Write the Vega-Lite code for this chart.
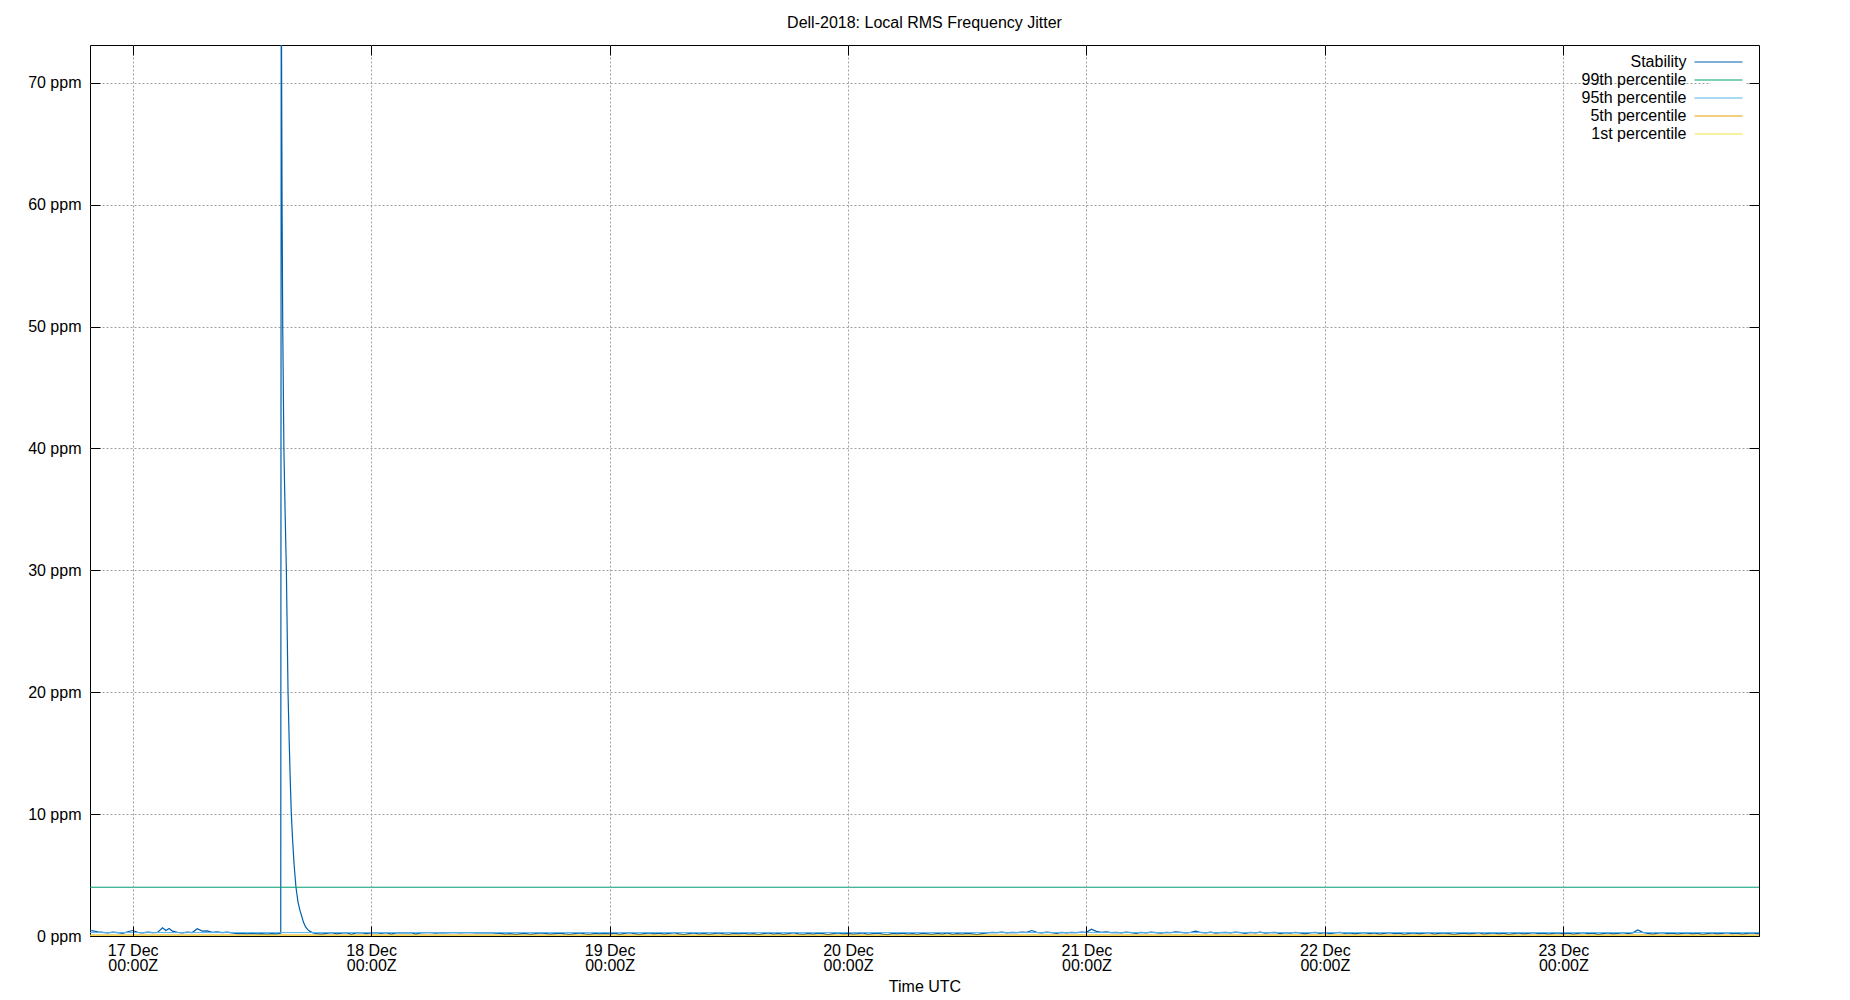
{
  "$schema": "https://vega.github.io/schema/vega-lite/v6.json",
  "width": 1669,
  "height": 891,
  "autosize": {"type": "none"},
  "padding": {"left": 90, "top": 45, "right": 91, "bottom": 64},
  "background": "white",
  "title": {"text": "Dell-2018: Local RMS Frequency Jitter", "fontSize": 16, "fontWeight": "normal", "font": "Liberation Sans", "color": "black", "anchor": "middle", "baseline": "alphabetic", "offset": 1},
  "datasets": {
    "stability": [
      {"t":"2019-12-16T19:42:00Z","v":0.45},{"t":"2019-12-16T20:00:00Z","v":0.42},{"t":"2019-12-16T20:30:00Z","v":0.35},{"t":"2019-12-16T21:00:00Z","v":0.3},{"t":"2019-12-16T21:30:00Z","v":0.25},{"t":"2019-12-16T22:00:00Z","v":0.32},{"t":"2019-12-16T22:30:00Z","v":0.28},{"t":"2019-12-16T23:00:00Z","v":0.22},{"t":"2019-12-16T23:30:00Z","v":0.35},
      {"t":"2019-12-17T00:00:00Z","v":0.45},{"t":"2019-12-17T00:30:00Z","v":0.3},{"t":"2019-12-17T01:00:00Z","v":0.26},{"t":"2019-12-17T01:30:00Z","v":0.32},{"t":"2019-12-17T02:00:00Z","v":0.27},{"t":"2019-12-17T02:30:00Z","v":0.3},{"t":"2019-12-17T03:00:00Z","v":0.68},{"t":"2019-12-17T03:20:00Z","v":0.45},{"t":"2019-12-17T03:40:00Z","v":0.62},{"t":"2019-12-17T04:00:00Z","v":0.4},{"t":"2019-12-17T04:30:00Z","v":0.3},{"t":"2019-12-17T05:00:00Z","v":0.26},{"t":"2019-12-17T05:30:00Z","v":0.32},{"t":"2019-12-17T06:00:00Z","v":0.28},{"t":"2019-12-17T06:30:00Z","v":0.6},{"t":"2019-12-17T07:00:00Z","v":0.4},{"t":"2019-12-17T07:30:00Z","v":0.42},{"t":"2019-12-17T08:00:00Z","v":0.3},{"t":"2019-12-17T08:30:00Z","v":0.33},{"t":"2019-12-17T09:00:00Z","v":0.27},{"t":"2019-12-17T09:30:00Z","v":0.31},{"t":"2019-12-17T10:00:00Z","v":0.25},{"t":"2019-12-17T10:30:00Z","v":0.2},{"t":"2019-12-17T11:00:00Z","v":0.22},{"t":"2019-12-17T11:30:00Z","v":0.18},{"t":"2019-12-17T12:00:00Z","v":0.21},{"t":"2019-12-17T12:30:00Z","v":0.17},{"t":"2019-12-17T13:00:00Z","v":0.19},{"t":"2019-12-17T13:30:00Z","v":0.16},{"t":"2019-12-17T14:00:00Z","v":0.2},{"t":"2019-12-17T14:30:00Z","v":0.18},{"t":"2019-12-17T14:54:00Z","v":0.22},
      {"t":"2019-12-17T14:57:00Z","v":80},{"t":"2019-12-17T15:02:00Z","v":60},{"t":"2019-12-17T15:06:00Z","v":50},{"t":"2019-12-17T15:13:00Z","v":40},{"t":"2019-12-17T15:20:00Z","v":35},{"t":"2019-12-17T15:28:00Z","v":30},{"t":"2019-12-17T15:33:00Z","v":25},{"t":"2019-12-17T15:38:00Z","v":20},{"t":"2019-12-17T15:45:00Z","v":16},{"t":"2019-12-17T15:52:00Z","v":12.5},{"t":"2019-12-17T15:58:00Z","v":10},{"t":"2019-12-17T16:06:00Z","v":7.8},{"t":"2019-12-17T16:15:00Z","v":5.8},{"t":"2019-12-17T16:26:00Z","v":4.0},{"t":"2019-12-17T16:38:00Z","v":2.8},{"t":"2019-12-17T16:50:00Z","v":2.1},{"t":"2019-12-17T17:01:00Z","v":1.6},{"t":"2019-12-17T17:12:00Z","v":1.1},{"t":"2019-12-17T17:24:00Z","v":0.75},{"t":"2019-12-17T17:37:00Z","v":0.52},{"t":"2019-12-17T17:51:00Z","v":0.38},{"t":"2019-12-17T18:05:00Z","v":0.28},
      {"t":"2019-12-17T18:30:00Z","v":0.2},{"t":"2019-12-17T19:00:00Z","v":0.15},{"t":"2019-12-17T19:30:00Z","v":0.22},{"t":"2019-12-17T20:00:00Z","v":0.27},{"t":"2019-12-17T20:30:00Z","v":0.18},{"t":"2019-12-17T21:00:00Z","v":0.24},{"t":"2019-12-17T21:30:00Z","v":0.28},{"t":"2019-12-17T22:00:00Z","v":0.14},{"t":"2019-12-17T22:30:00Z","v":0.25},{"t":"2019-12-17T23:00:00Z","v":0.27},{"t":"2019-12-17T23:30:00Z","v":0.2},
      {"t":"2019-12-18T00:00:00Z","v":0.26},{"t":"2019-12-18T00:30:00Z","v":0.28},{"t":"2019-12-18T01:00:00Z","v":0.22},{"t":"2019-12-18T01:30:00Z","v":0.27},{"t":"2019-12-18T02:00:00Z","v":0.15},{"t":"2019-12-18T02:30:00Z","v":0.26},{"t":"2019-12-18T03:00:00Z","v":0.28},{"t":"2019-12-18T03:30:00Z","v":0.25},{"t":"2019-12-18T04:00:00Z","v":0.27},{"t":"2019-12-18T04:30:00Z","v":0.16},{"t":"2019-12-18T05:00:00Z","v":0.25},{"t":"2019-12-18T05:30:00Z","v":0.28},{"t":"2019-12-18T06:00:00Z","v":0.27},{"t":"2019-12-18T06:30:00Z","v":0.24},{"t":"2019-12-18T07:00:00Z","v":0.28},{"t":"2019-12-18T07:30:00Z","v":0.26},{"t":"2019-12-18T08:00:00Z","v":0.27},{"t":"2019-12-18T08:30:00Z","v":0.28},{"t":"2019-12-18T09:00:00Z","v":0.25},{"t":"2019-12-18T09:30:00Z","v":0.27},{"t":"2019-12-18T10:00:00Z","v":0.28},{"t":"2019-12-18T10:30:00Z","v":0.26},{"t":"2019-12-18T11:00:00Z","v":0.27},{"t":"2019-12-18T11:30:00Z","v":0.25},{"t":"2019-12-18T12:00:00Z","v":0.28},{"t":"2019-12-18T12:30:00Z","v":0.24},{"t":"2019-12-18T13:00:00Z","v":0.22},{"t":"2019-12-18T13:30:00Z","v":0.16},{"t":"2019-12-18T14:00:00Z","v":0.2},{"t":"2019-12-18T14:30:00Z","v":0.13},{"t":"2019-12-18T15:00:00Z","v":0.18},{"t":"2019-12-18T15:30:00Z","v":0.22},{"t":"2019-12-18T16:00:00Z","v":0.14},{"t":"2019-12-18T16:30:00Z","v":0.19},{"t":"2019-12-18T17:00:00Z","v":0.25},{"t":"2019-12-18T17:30:00Z","v":0.21},{"t":"2019-12-18T18:00:00Z","v":0.15},{"t":"2019-12-18T18:30:00Z","v":0.2},{"t":"2019-12-18T19:00:00Z","v":0.24},{"t":"2019-12-18T19:30:00Z","v":0.17},{"t":"2019-12-18T20:00:00Z","v":0.14},{"t":"2019-12-18T20:30:00Z","v":0.2},{"t":"2019-12-18T21:00:00Z","v":0.25},{"t":"2019-12-18T21:30:00Z","v":0.18},{"t":"2019-12-18T22:00:00Z","v":0.13},{"t":"2019-12-18T22:30:00Z","v":0.21},{"t":"2019-12-18T23:00:00Z","v":0.17},{"t":"2019-12-18T23:30:00Z","v":0.22},
      {"t":"2019-12-19T00:00:00Z","v":0.18},{"t":"2019-12-19T00:30:00Z","v":0.24},{"t":"2019-12-19T01:00:00Z","v":0.14},{"t":"2019-12-19T01:30:00Z","v":0.22},{"t":"2019-12-19T02:00:00Z","v":0.27},{"t":"2019-12-19T02:30:00Z","v":0.19},{"t":"2019-12-19T03:00:00Z","v":0.13},{"t":"2019-12-19T03:30:00Z","v":0.2},{"t":"2019-12-19T04:00:00Z","v":0.26},{"t":"2019-12-19T04:30:00Z","v":0.17},{"t":"2019-12-19T05:00:00Z","v":0.23},{"t":"2019-12-19T05:30:00Z","v":0.15},{"t":"2019-12-19T06:00:00Z","v":0.21},{"t":"2019-12-19T06:30:00Z","v":0.27},{"t":"2019-12-19T07:00:00Z","v":0.18},{"t":"2019-12-19T07:30:00Z","v":0.12},{"t":"2019-12-19T08:00:00Z","v":0.2},{"t":"2019-12-19T08:30:00Z","v":0.25},{"t":"2019-12-19T09:00:00Z","v":0.16},{"t":"2019-12-19T09:30:00Z","v":0.22},{"t":"2019-12-19T10:00:00Z","v":0.14},{"t":"2019-12-19T10:30:00Z","v":0.19},{"t":"2019-12-19T11:00:00Z","v":0.26},{"t":"2019-12-19T11:30:00Z","v":0.18},{"t":"2019-12-19T12:00:00Z","v":0.13},{"t":"2019-12-19T12:30:00Z","v":0.21},{"t":"2019-12-19T13:00:00Z","v":0.17},{"t":"2019-12-19T13:30:00Z","v":0.24},{"t":"2019-12-19T14:00:00Z","v":0.15},{"t":"2019-12-19T14:30:00Z","v":0.2},{"t":"2019-12-19T15:00:00Z","v":0.12},{"t":"2019-12-19T15:30:00Z","v":0.19},{"t":"2019-12-19T16:00:00Z","v":0.25},{"t":"2019-12-19T16:30:00Z","v":0.16},{"t":"2019-12-19T17:00:00Z","v":0.22},{"t":"2019-12-19T17:30:00Z","v":0.14},{"t":"2019-12-19T18:00:00Z","v":0.2},{"t":"2019-12-19T18:30:00Z","v":0.27},{"t":"2019-12-19T19:00:00Z","v":0.17},{"t":"2019-12-19T19:30:00Z","v":0.13},{"t":"2019-12-19T20:00:00Z","v":0.21},{"t":"2019-12-19T20:30:00Z","v":0.16},{"t":"2019-12-19T21:00:00Z","v":0.24},{"t":"2019-12-19T21:30:00Z","v":0.19},{"t":"2019-12-19T22:00:00Z","v":0.12},{"t":"2019-12-19T22:30:00Z","v":0.2},{"t":"2019-12-19T23:00:00Z","v":0.25},{"t":"2019-12-19T23:30:00Z","v":0.17},
      {"t":"2019-12-20T00:00:00Z","v":0.22},{"t":"2019-12-20T00:30:00Z","v":0.15},{"t":"2019-12-20T01:00:00Z","v":0.2},{"t":"2019-12-20T01:30:00Z","v":0.26},{"t":"2019-12-20T02:00:00Z","v":0.14},{"t":"2019-12-20T02:30:00Z","v":0.19},{"t":"2019-12-20T03:00:00Z","v":0.23},{"t":"2019-12-20T03:30:00Z","v":0.16},{"t":"2019-12-20T04:00:00Z","v":0.12},{"t":"2019-12-20T04:30:00Z","v":0.21},{"t":"2019-12-20T05:00:00Z","v":0.17},{"t":"2019-12-20T05:30:00Z","v":0.24},{"t":"2019-12-20T06:00:00Z","v":0.15},{"t":"2019-12-20T06:30:00Z","v":0.2},{"t":"2019-12-20T07:00:00Z","v":0.13},{"t":"2019-12-20T07:30:00Z","v":0.22},{"t":"2019-12-20T08:00:00Z","v":0.18},{"t":"2019-12-20T08:30:00Z","v":0.14},{"t":"2019-12-20T09:00:00Z","v":0.21},{"t":"2019-12-20T09:30:00Z","v":0.16},{"t":"2019-12-20T10:00:00Z","v":0.25},{"t":"2019-12-20T10:30:00Z","v":0.13},{"t":"2019-12-20T11:00:00Z","v":0.19},{"t":"2019-12-20T11:30:00Z","v":0.15},{"t":"2019-12-20T12:00:00Z","v":0.22},{"t":"2019-12-20T12:30:00Z","v":0.17},{"t":"2019-12-20T13:00:00Z","v":0.12},{"t":"2019-12-20T13:30:00Z","v":0.2},{"t":"2019-12-20T14:00:00Z","v":0.26},{"t":"2019-12-20T14:30:00Z","v":0.3},{"t":"2019-12-20T15:00:00Z","v":0.27},{"t":"2019-12-20T15:30:00Z","v":0.32},{"t":"2019-12-20T16:00:00Z","v":0.25},{"t":"2019-12-20T16:30:00Z","v":0.3},{"t":"2019-12-20T17:00:00Z","v":0.28},{"t":"2019-12-20T17:30:00Z","v":0.33},{"t":"2019-12-20T18:00:00Z","v":0.3},{"t":"2019-12-20T18:30:00Z","v":0.45},{"t":"2019-12-20T19:00:00Z","v":0.3},{"t":"2019-12-20T19:30:00Z","v":0.26},{"t":"2019-12-20T20:00:00Z","v":0.31},{"t":"2019-12-20T20:30:00Z","v":0.27},{"t":"2019-12-20T21:00:00Z","v":0.22},{"t":"2019-12-20T21:30:00Z","v":0.29},{"t":"2019-12-20T22:00:00Z","v":0.25},{"t":"2019-12-20T22:30:00Z","v":0.3},{"t":"2019-12-20T23:00:00Z","v":0.27},{"t":"2019-12-20T23:30:00Z","v":0.32},
      {"t":"2019-12-21T00:00:00Z","v":0.3},{"t":"2019-12-21T00:30:00Z","v":0.55},{"t":"2019-12-21T01:00:00Z","v":0.38},{"t":"2019-12-21T01:30:00Z","v":0.3},{"t":"2019-12-21T02:00:00Z","v":0.33},{"t":"2019-12-21T02:30:00Z","v":0.27},{"t":"2019-12-21T03:00:00Z","v":0.3},{"t":"2019-12-21T03:30:00Z","v":0.25},{"t":"2019-12-21T04:00:00Z","v":0.31},{"t":"2019-12-21T04:30:00Z","v":0.28},{"t":"2019-12-21T05:00:00Z","v":0.22},{"t":"2019-12-21T05:30:00Z","v":0.3},{"t":"2019-12-21T06:00:00Z","v":0.26},{"t":"2019-12-21T06:30:00Z","v":0.32},{"t":"2019-12-21T07:00:00Z","v":0.28},{"t":"2019-12-21T07:30:00Z","v":0.24},{"t":"2019-12-21T08:00:00Z","v":0.3},{"t":"2019-12-21T08:30:00Z","v":0.27},{"t":"2019-12-21T09:00:00Z","v":0.33},{"t":"2019-12-21T09:30:00Z","v":0.29},{"t":"2019-12-21T10:00:00Z","v":0.25},{"t":"2019-12-21T10:30:00Z","v":0.3},{"t":"2019-12-21T11:00:00Z","v":0.4},{"t":"2019-12-21T11:30:00Z","v":0.29},{"t":"2019-12-21T12:00:00Z","v":0.26},{"t":"2019-12-21T12:30:00Z","v":0.31},{"t":"2019-12-21T13:00:00Z","v":0.23},{"t":"2019-12-21T13:30:00Z","v":0.28},{"t":"2019-12-21T14:00:00Z","v":0.3},{"t":"2019-12-21T14:30:00Z","v":0.25},{"t":"2019-12-21T15:00:00Z","v":0.32},{"t":"2019-12-21T15:30:00Z","v":0.27},{"t":"2019-12-21T16:00:00Z","v":0.22},{"t":"2019-12-21T16:30:00Z","v":0.29},{"t":"2019-12-21T17:00:00Z","v":0.26},{"t":"2019-12-21T17:30:00Z","v":0.31},{"t":"2019-12-21T18:00:00Z","v":0.24},{"t":"2019-12-21T18:30:00Z","v":0.28},{"t":"2019-12-21T19:00:00Z","v":0.3},{"t":"2019-12-21T19:30:00Z","v":0.2},{"t":"2019-12-21T20:00:00Z","v":0.27},{"t":"2019-12-21T20:30:00Z","v":0.23},{"t":"2019-12-21T21:00:00Z","v":0.29},{"t":"2019-12-21T21:30:00Z","v":0.25},{"t":"2019-12-21T22:00:00Z","v":0.18},{"t":"2019-12-21T22:30:00Z","v":0.26},{"t":"2019-12-21T23:00:00Z","v":0.3},{"t":"2019-12-21T23:30:00Z","v":0.22},
      {"t":"2019-12-22T00:00:00Z","v":0.27},{"t":"2019-12-22T00:30:00Z","v":0.19},{"t":"2019-12-22T01:00:00Z","v":0.25},{"t":"2019-12-22T01:30:00Z","v":0.29},{"t":"2019-12-22T02:00:00Z","v":0.21},{"t":"2019-12-22T02:30:00Z","v":0.26},{"t":"2019-12-22T03:00:00Z","v":0.17},{"t":"2019-12-22T03:30:00Z","v":0.24},{"t":"2019-12-22T04:00:00Z","v":0.28},{"t":"2019-12-22T04:30:00Z","v":0.2},{"t":"2019-12-22T05:00:00Z","v":0.25},{"t":"2019-12-22T05:30:00Z","v":0.15},{"t":"2019-12-22T06:00:00Z","v":0.22},{"t":"2019-12-22T06:30:00Z","v":0.27},{"t":"2019-12-22T07:00:00Z","v":0.19},{"t":"2019-12-22T07:30:00Z","v":0.24},{"t":"2019-12-22T08:00:00Z","v":0.14},{"t":"2019-12-22T08:30:00Z","v":0.21},{"t":"2019-12-22T09:00:00Z","v":0.26},{"t":"2019-12-22T09:30:00Z","v":0.18},{"t":"2019-12-22T10:00:00Z","v":0.23},{"t":"2019-12-22T10:30:00Z","v":0.28},{"t":"2019-12-22T11:00:00Z","v":0.16},{"t":"2019-12-22T11:30:00Z","v":0.22},{"t":"2019-12-22T12:00:00Z","v":0.25},{"t":"2019-12-22T12:30:00Z","v":0.19},{"t":"2019-12-22T13:00:00Z","v":0.13},{"t":"2019-12-22T13:30:00Z","v":0.2},{"t":"2019-12-22T14:00:00Z","v":0.24},{"t":"2019-12-22T14:30:00Z","v":0.17},{"t":"2019-12-22T15:00:00Z","v":0.22},{"t":"2019-12-22T15:30:00Z","v":0.27},{"t":"2019-12-22T16:00:00Z","v":0.15},{"t":"2019-12-22T16:30:00Z","v":0.21},{"t":"2019-12-22T17:00:00Z","v":0.26},{"t":"2019-12-22T17:30:00Z","v":0.18},{"t":"2019-12-22T18:00:00Z","v":0.23},{"t":"2019-12-22T18:30:00Z","v":0.14},{"t":"2019-12-22T19:00:00Z","v":0.2},{"t":"2019-12-22T19:30:00Z","v":0.25},{"t":"2019-12-22T20:00:00Z","v":0.17},{"t":"2019-12-22T20:30:00Z","v":0.22},{"t":"2019-12-22T21:00:00Z","v":0.28},{"t":"2019-12-22T21:30:00Z","v":0.19},{"t":"2019-12-22T22:00:00Z","v":0.24},{"t":"2019-12-22T22:30:00Z","v":0.16},{"t":"2019-12-22T23:00:00Z","v":0.21},{"t":"2019-12-22T23:30:00Z","v":0.26},
      {"t":"2019-12-23T00:00:00Z","v":0.18},{"t":"2019-12-23T00:30:00Z","v":0.23},{"t":"2019-12-23T01:00:00Z","v":0.15},{"t":"2019-12-23T01:30:00Z","v":0.21},{"t":"2019-12-23T02:00:00Z","v":0.27},{"t":"2019-12-23T02:30:00Z","v":0.19},{"t":"2019-12-23T03:00:00Z","v":0.24},{"t":"2019-12-23T03:30:00Z","v":0.14},{"t":"2019-12-23T04:00:00Z","v":0.2},{"t":"2019-12-23T04:30:00Z","v":0.25},{"t":"2019-12-23T05:00:00Z","v":0.17},{"t":"2019-12-23T05:30:00Z","v":0.22},{"t":"2019-12-23T06:00:00Z","v":0.28},{"t":"2019-12-23T06:30:00Z","v":0.2},{"t":"2019-12-23T07:00:00Z","v":0.26},{"t":"2019-12-23T07:30:00Z","v":0.5},{"t":"2019-12-23T08:00:00Z","v":0.3},{"t":"2019-12-23T08:30:00Z","v":0.22},{"t":"2019-12-23T09:00:00Z","v":0.16},{"t":"2019-12-23T09:30:00Z","v":0.23},{"t":"2019-12-23T10:00:00Z","v":0.27},{"t":"2019-12-23T10:30:00Z","v":0.19},{"t":"2019-12-23T11:00:00Z","v":0.24},{"t":"2019-12-23T11:30:00Z","v":0.15},{"t":"2019-12-23T12:00:00Z","v":0.21},{"t":"2019-12-23T12:30:00Z","v":0.26},{"t":"2019-12-23T13:00:00Z","v":0.18},{"t":"2019-12-23T13:30:00Z","v":0.23},{"t":"2019-12-23T14:00:00Z","v":0.14},{"t":"2019-12-23T14:30:00Z","v":0.2},{"t":"2019-12-23T15:00:00Z","v":0.25},{"t":"2019-12-23T15:30:00Z","v":0.17},{"t":"2019-12-23T16:00:00Z","v":0.22},{"t":"2019-12-23T16:30:00Z","v":0.27},{"t":"2019-12-23T17:00:00Z","v":0.19},{"t":"2019-12-23T17:30:00Z","v":0.24},{"t":"2019-12-23T18:00:00Z","v":0.16},{"t":"2019-12-23T18:30:00Z","v":0.21},{"t":"2019-12-23T19:00:00Z","v":0.26},{"t":"2019-12-23T19:30:00Z","v":0.2},{"t":"2019-12-23T19:42:00Z","v":0.22}
    ],
    "pct": [
      {"s":"99th percentile","t":"2019-12-16T19:42:00Z","v":4.0},{"s":"99th percentile","t":"2019-12-23T19:42:00Z","v":4.0},
      {"s":"95th percentile","t":"2019-12-16T19:42:00Z","v":0.28},{"s":"95th percentile","t":"2019-12-23T19:42:00Z","v":0.28},
      {"s":"5th percentile","t":"2019-12-16T19:42:00Z","v":0.08},{"s":"5th percentile","t":"2019-12-23T19:42:00Z","v":0.08},
      {"s":"1st percentile","t":"2019-12-16T19:42:00Z","v":0.01},{"s":"1st percentile","t":"2019-12-23T19:42:00Z","v":0.01}
    ]
  },
  "layer": [
    {
      "data": {"name": "stability"},
      "mark": {"type": "line", "strokeWidth": 1.2, "clip": true, "interpolate": "linear"},
      "encoding": {
        "x": {
          "field": "t", "type": "temporal",
          "scale": {"type": "utc", "nice": false, "domain": [{"year":2019,"month":12,"date":16,"hours":19,"minutes":42,"utc":true},{"year":2019,"month":12,"date":23,"hours":19,"minutes":42,"utc":true}]},
          "axis": {
            "orient": "bottom", "title": "Time UTC", "grid": true, "domain": true, "domainColor": "black", "zindex": 1,
            "values": [{"year":2019,"month":12,"date":17,"utc":true},{"year":2019,"month":12,"date":18,"utc":true},{"year":2019,"month":12,"date":19,"utc":true},{"year":2019,"month":12,"date":20,"utc":true},{"year":2019,"month":12,"date":21,"utc":true},{"year":2019,"month":12,"date":22,"utc":true},{"year":2019,"month":12,"date":23,"utc":true}],
            "labelExpr": "[utcFormat(datum.value, '%d %b'), utcFormat(datum.value, '%H:%MZ')]",
            "labelLineHeight": 15, "labelPadding": 16, "labelAlign": "center", "titlePadding": 5, "labelFlush": false
          }
        },
        "y": {
          "field": "v", "type": "quantitative",
          "scale": {"domain": [0, 73.1], "nice": false, "zero": true},
          "axis": {"orient": "left", "title": null, "grid": true, "values": [0,10,20,30,40,50,60,70], "labelExpr": "datum.value + ' ppm'", "labelPadding": 19}
        },
        "color": {
          "datum": "Stability", "type": "nominal",
          "scale": {"domain": ["Stability","99th percentile","95th percentile","5th percentile","1st percentile"], "range": ["#0060ad","#009e73","#56b4e9","#e69f00","#f0e442"]},
          "legend": {"title": null}
        }
      }
    },
    {
      "data": {"name": "pct"},
      "mark": {"type": "line", "strokeWidth": 1, "clip": true},
      "encoding": {
        "x": {
          "field": "t", "type": "temporal",
          "axis": {
            "orient": "top", "title": null, "grid": false, "labels": false, "domain": false, "zindex": 1,
            "values": [{"year":2019,"month":12,"date":17,"utc":true},{"year":2019,"month":12,"date":18,"utc":true},{"year":2019,"month":12,"date":19,"utc":true},{"year":2019,"month":12,"date":20,"utc":true},{"year":2019,"month":12,"date":21,"utc":true},{"year":2019,"month":12,"date":22,"utc":true},{"year":2019,"month":12,"date":23,"utc":true}]
          }
        },
        "y": {
          "field": "v", "type": "quantitative",
          "axis": {"orient": "right", "title": null, "grid": false, "labels": false, "domain": false, "zindex": 1, "values": [0,10,20,30,40,50,60,70]}
        },
        "color": {
          "field": "s", "type": "nominal",
          "scale": {"domain": ["Stability","99th percentile","95th percentile","5th percentile","1st percentile"], "range": ["#0060ad","#009e73","#56b4e9","#e69f00","#f0e442"]},
          "legend": {"title": null}
        }
      }
    }
  ],
  "resolve": {"axis": {"x": "independent", "y": "independent"}},
  "config": {
    "font": "Liberation Sans",
    "view": {"stroke": "black", "strokeWidth": 1},
    "axis": {
      "labelFont": "Liberation Sans", "labelFontSize": 16, "labelColor": "black",
      "titleFont": "Liberation Sans", "titleFontSize": 16, "titleFontWeight": "normal", "titleColor": "black",
      "tickColor": "black", "tickSize": -10, "tickWidth": 1, "domain": false,
      "gridColor": "#a0a0a0", "gridDash": [2, 2], "gridWidth": 1, "gridOpacity": 1
    },
    "legend": {
      "orient": "none", "legendX": 1620.5, "legendY": 9, "padding": 0, "fillColor": "white",
      "symbolType": "M-4.8,0H4.8", "symbolSize": 100, "symbolStrokeWidth": 1.2, "symbolOpacity": 1,
      "labelFont": "Liberation Sans", "labelFontSize": 16, "labelColor": "black",
      "labelAlign": "right", "labelOffset": -40, "labelLimit": 0
    }
  }
}
